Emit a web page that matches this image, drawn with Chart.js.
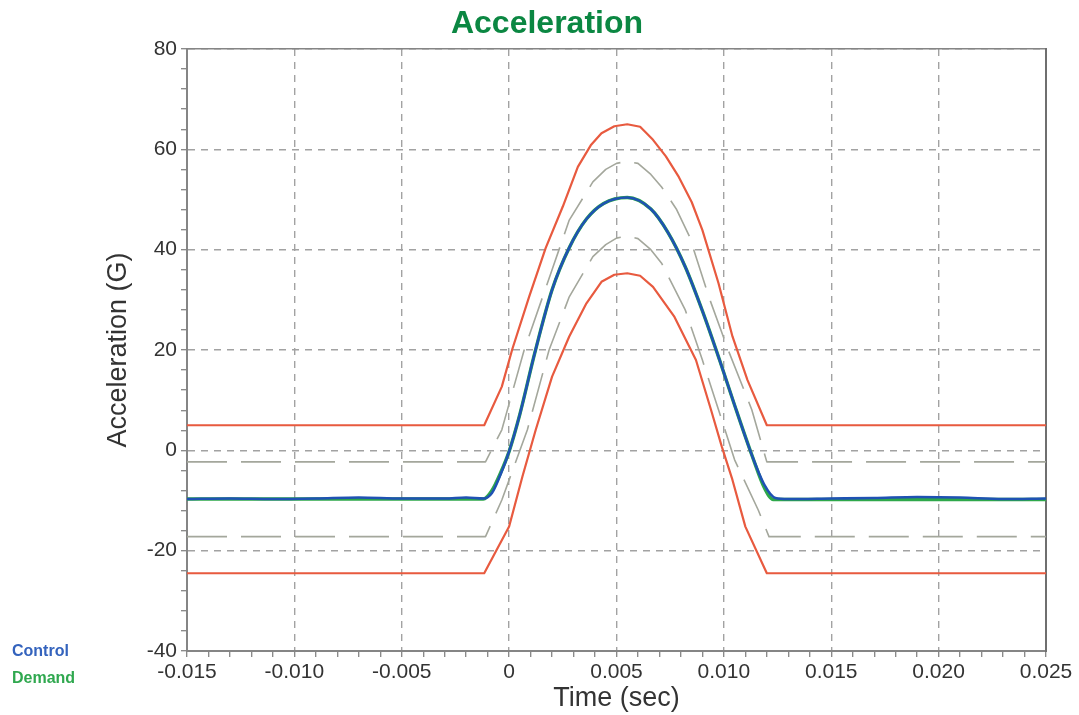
<!DOCTYPE html>
<html>
<head>
<meta charset="utf-8">
<script src="https://cdn.jsdelivr.net/npm/chart.js@4.4.0/dist/chart.umd.min.js"></script>
<style>
  body { margin: 0; background: #fff; }
  #wrap { position: relative; width: 1079px; height: 715px; }
  .txt { position: absolute; font-family: "Liberation Sans", Arial, sans-serif; white-space: nowrap; }
  #title { left: 347px; top: 4px; width: 400px; text-align: center; font-size: 32px; line-height: 37px; font-weight: bold; color: #0b8742; }
  #legCtrl { left: 12px; top: 641px; font-size: 16px; line-height: 20px; font-weight: bold; color: #3463bd; }
  #legDem { left: 12px; top: 668px; font-size: 16px; line-height: 20px; font-weight: bold; color: #2fa84f; }
</style>
</head>
<body>
<div id="wrap">
  <canvas id="accel" width="1079" height="715"></canvas>
  <div class="txt" id="title">Acceleration</div>
  <div class="txt" id="legCtrl">Control</div>
  <div class="txt" id="legDem">Demand</div>
</div>
<script>
// time (sec) / acceleration (G) pairs
const controlT = [-0.015, -0.013, -0.011, -0.009, -0.007, -0.005, -0.003, -0.002, -0.0012, -0.0008, -0.0004, 0, 0.0005, 0.0012, 0.002, 0.0028, 0.0036, 0.0044, 0.0055, 0.0066, 0.0074, 0.0082, 0.009, 0.0098, 0.0105, 0.0113, 0.0119, 0.0124, 0.013, 0.015, 0.017, 0.019, 0.021, 0.023, 0.025];
const controlG = [-9.7, -9.6, -9.7, -9.6, -9.4, -9.6, -9.6, -9.4, -9.6, -8.5, -4.8, -0.2, 7.2, 19.5, 32, 40.4, 46.1, 49.2, 50.4, 48.1, 43.4, 36.6, 27.8, 18.0, 9.0, -0.9, -7.0, -9.5, -9.7, -9.6, -9.5, -9.3, -9.4, -9.7, -9.6];

const demandT = [-0.015, -0.0012, -0.0008, -0.0004, 0, 0.0005, 0.0012, 0.002, 0.0028, 0.0036, 0.0044, 0.0055, 0.0066, 0.0074, 0.0082, 0.009, 0.0098, 0.0105, 0.0113, 0.0119, 0.0123, 0.025];
const demandG = [-9.7, -9.7, -8.0, -4.5, -0.2, 7.2, 19.5, 32, 40.4, 46.1, 49.2, 50.4, 48.1, 43.4, 36.6, 27.8, 18.0, 9.0, -0.9, -7.6, -9.8, -9.8];

const abortHiT = [-0.015, -0.00116, -0.00034, 0.00015, 0.00093, 0.0017, 0.0025, 0.0032, 0.0038, 0.0043, 0.0049, 0.0055, 0.0061, 0.0067, 0.0073, 0.0079, 0.0085, 0.009, 0.00975, 0.0104, 0.0111, 0.012, 0.025];
const abortHiG = [5, 5, 12.7, 20.2, 30.6, 40.3, 48.6, 56.5, 60.8, 63.2, 64.6, 65, 64.5, 61.9, 58.6, 54.5, 49.5, 43.9, 33.3, 22.7, 14, 5, 5];

const abortLoT = [-0.015, -0.00116, 0, 0.00062, 0.00124, 0.002, 0.0028, 0.0036, 0.0043, 0.0049, 0.0055, 0.0061, 0.0067, 0.0077, 0.0087, 0.0094, 0.0099, 0.0104, 0.011, 0.012, 0.025];
const abortLoG = [-24.5, -24.5, -15.2, -5.2, 4.1, 14.7, 22.7, 29.3, 33.6, 35.0, 35.3, 34.8, 32.6, 26.6, 18, 8.1, 0.8, -5.9, -15.2, -24.5, -24.5];

const alarmHiT = [-0.015, -0.0011, -0.00034, 0.0007, 0.002, 0.0028, 0.0039, 0.0045, 0.005, 0.0055, 0.006, 0.0066, 0.0071, 0.0078, 0.0084, 0.0093, 0.0102, 0.0113, 0.012, 0.025];
const alarmHiG = [-2.3, -2.3, 4.1, 20, 36, 45.9, 53.5, 56, 57.2, 57.6, 57.2, 55, 52.5, 48, 42.6, 30.6, 20, 8.1, -2.3, -2.3];

const alarmLoT = [-0.015, -0.0011, -0.00034, 0.00085, 0.00186, 0.0028, 0.0039, 0.0045, 0.005, 0.0055, 0.006, 0.0066, 0.0071, 0.0082, 0.009, 0.00975, 0.0105, 0.0116, 0.0121, 0.025];
const alarmLoG = [-17.2, -17.2, -9.9, 4.1, 20, 30.6, 38.6, 41, 42.3, 42.7, 42.2, 40, 37.3, 28, 18, 8.1, -1.9, -11.9, -17.2, -17.2];

const xTickStep = 0.001;   // minor ticks, labels every 0.005
const yTickStep = 4;       // minor ticks, labels every 20

function pts(t, g) {
  return t.map((v, i) => ({ x: v, y: g[i] }));
}
function isMajorX(v) {
  return Math.abs(v / 0.005 - Math.round(v / 0.005)) < 1e-6;
}
function isMajorY(v) {
  return Math.abs(v % 20) < 1e-6;
}

const fontFamily = '"Liberation Sans", Arial, sans-serif';
const gridCol = '#a2a2a2';
const axisCol = '#858585';

// first dataset is drawn on top
new Chart(document.getElementById('accel'), {
  type: 'line',
  data: {
    datasets: [
      { label: 'Control', data: pts(controlT, controlG), borderColor: '#1f52b3', borderWidth: 2.6, cubicInterpolationMode: 'monotone' },
      { label: 'Demand', data: pts(demandT, demandG), borderColor: '#2ea84a', borderWidth: 3.4, cubicInterpolationMode: 'monotone' },
      { label: 'Abort high', data: pts(abortHiT, abortHiG), borderColor: '#e85a3f', borderWidth: 2.2, tension: 0 },
      { label: 'Abort low', data: pts(abortLoT, abortLoG), borderColor: '#e85a3f', borderWidth: 2.2, tension: 0 },
      { label: 'Alarm high', data: pts(alarmHiT, alarmHiG), borderColor: '#a4a79c', borderWidth: 1.6, borderDash: [40, 14], tension: 0 },
      { label: 'Alarm low', data: pts(alarmLoT, alarmLoG), borderColor: '#a4a79c', borderWidth: 1.6, borderDash: [40, 14], tension: 0 }
    ]
  },
  options: {
    responsive: false,
    animation: false,
    devicePixelRatio: 1,
    elements: { point: { radius: 0 }, line: { fill: false, borderJoinStyle: 'round' } },
    layout: { padding: { left: 0, right: 33, top: 49, bottom: 0 } },
    plugins: { legend: { display: false }, tooltip: { enabled: false }, title: { display: false } },
    scales: {
      x: {
        type: 'linear',
        position: 'bottom',
        min: -0.015,
        max: 0.025,
        afterFit: (s) => { s.height = 64; },
        ticks: {
          stepSize: xTickStep,
          autoSkip: false,
          maxRotation: 0,
          minRotation: 0,
          padding: 3,
          color: '#333',
          font: { family: fontFamily, size: 21 },
          callback: (v) => isMajorX(v) ? (Math.abs(v) < 1e-9 ? '0' : v.toFixed(3)) : ''
        },
        grid: {
          color: (c) => (c.tick && isMajorX(c.tick.value)) ? gridCol : 'rgba(0,0,0,0)',
          lineWidth: 1.4,
          tickColor: axisCol,
          tickLength: 6,
          tickWidth: 1.3
        },
        border: { color: axisCol, width: 2, dash: [7, 6] },
        title: {
          display: true,
          text: 'Time (sec)',
          color: '#333',
          font: { family: fontFamily, size: 27 },
          padding: { top: 0, bottom: 0 }
        }
      },
      y: {
        type: 'linear',
        position: 'left',
        min: -40,
        max: 80,
        afterFit: (s) => { s.width = 187; },
        ticks: {
          stepSize: yTickStep,
          autoSkip: false,
          padding: 4,
          color: '#333',
          font: { family: fontFamily, size: 21 },
          callback: (v) => isMajorY(v) ? String(v) : ''
        },
        grid: {
          color: (c) => (c.tick && isMajorY(c.tick.value)) ? gridCol : 'rgba(0,0,0,0)',
          lineWidth: 1.4,
          tickColor: axisCol,
          tickLength: 6,
          tickWidth: 1.3
        },
        border: { color: axisCol, width: 2, dash: [7, 6] },
        title: {
          display: true,
          text: 'Acceleration (G)',
          color: '#333',
          font: { family: fontFamily, size: 27 },
          padding: { top: 102, bottom: 0 }
        }
      },
      xTop: {
        type: 'linear',
        position: 'top',
        min: -0.015,
        max: 0.025,
        afterFit: (s) => { s.height = 0; },
        ticks: { display: false },
        grid: { drawOnChartArea: false, drawTicks: false },
        border: { color: axisCol, width: 1.6 }
      },
      yRight: {
        type: 'linear',
        position: 'right',
        min: -40,
        max: 80,
        afterFit: (s) => { s.width = 0; },
        ticks: { display: false },
        grid: { drawOnChartArea: false, drawTicks: false },
        border: { color: '#6f6f6f', width: 2 }
      }
    }
  }
});
</script>
</body>
</html>
